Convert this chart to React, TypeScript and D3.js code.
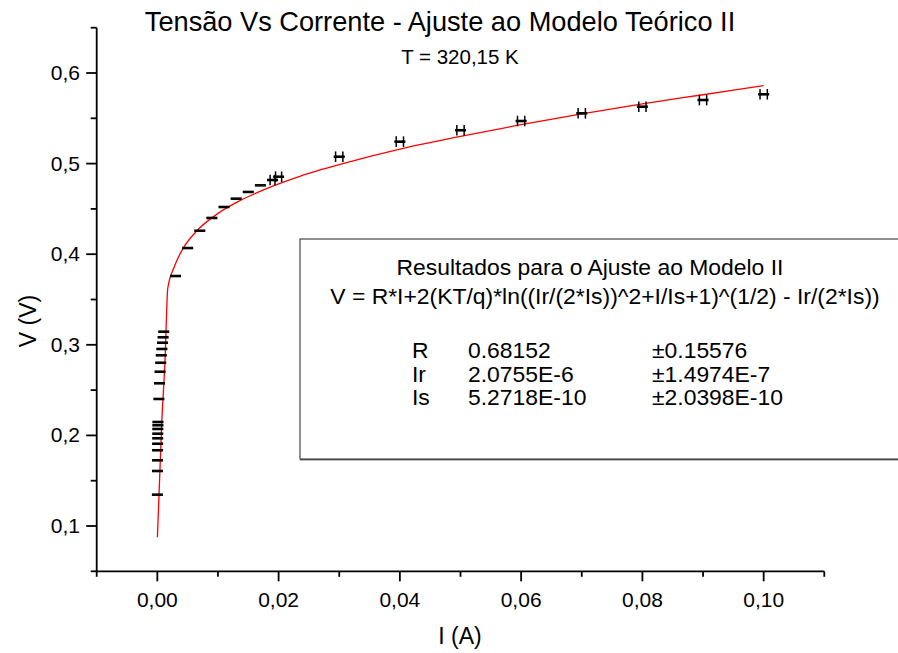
import React from "react";
import * as d3 from "d3";

// measured points (A, V)
const current = [
  0.00001, 0.00002, 0.00003, 0.00004, 0.00005, 0.00006, 0.00007, 0.00008, 0.00009, 0.0001,
  0.00025, 0.00035, 0.00045, 0.00055, 0.00065, 0.00075, 0.00085, 0.00095, 0.00105,
  0.003, 0.005, 0.007, 0.009, 0.011, 0.013, 0.015, 0.017, 0.019, 0.020,
  0.03, 0.04, 0.05, 0.06, 0.07, 0.08, 0.09, 0.10,
];
const voltage = [
  0.1346, 0.1607, 0.1725, 0.1836, 0.1908, 0.1968, 0.2019, 0.2071, 0.2112, 0.2148,
  0.2402, 0.2575, 0.2703, 0.2802, 0.2884, 0.2954, 0.3023, 0.3083, 0.3145,
  0.3759, 0.4068, 0.4259, 0.4400, 0.4521, 0.4613, 0.4687, 0.4760, 0.4819, 0.4855,
  0.5076, 0.5242, 0.5368, 0.5470, 0.5555, 0.5628, 0.5702, 0.5765,
];
const currentErr = [
  0, 0, 0, 0, 0, 0, 0, 0, 0, 0,
  0, 0, 0, 0, 0, 0, 0, 0, 0,
  0, 0, 0, 0, 0, 0, 0, 0, 0.0004, 0.0005,
  0.0006, 0.0006, 0.0006, 0.0006, 0.0006, 0.0006, 0.0006, 0.0006,
];
const voltageErr = 0.0006;

// fitted curve
const fitI = [
  0.00001, 0.00073, 0.00127, 0.00172, 0.0028, 0.0043, 0.0065, 0.0099, 0.0136, 0.0175,
  0.0235, 0.0271, 0.03, 0.04, 0.05, 0.06, 0.07, 0.08, 0.09, 0.10,
];
const fitV = [
  0.0875, 0.2148, 0.2832, 0.3624, 0.3862, 0.4070, 0.4257, 0.4445, 0.4590, 0.4710,
  0.4860, 0.4935, 0.499, 0.516, 0.530, 0.543, 0.555, 0.566, 0.576, 0.586,
];

const xMajor = [0, 0.02, 0.04, 0.06, 0.08, 0.1];
const xMinor = [-0.01, 0.01, 0.03, 0.05, 0.07, 0.09, 0.11];
const yMajor = [0.1, 0.2, 0.3, 0.4, 0.5, 0.6];
const yMinor = [0.05, 0.15, 0.25, 0.35, 0.45, 0.55, 0.65];

const fitParams = ["R", "Ir", "Is"];
const fitValues = ["0.68152", "2.0755E-6", "5.2718E-10"];
const fitErrors = ["±0.15576", "±1.4974E-7", "±2.0398E-10"];

const FONT = "'Liberation Sans', Arial, sans-serif";

export default function App() {
  const width = 898;
  const height = 653;
  const x = d3.scaleLinear().domain([-0.01, 0.11]).range([96.7, 824.3]);
  const y = d3.scaleLinear().domain([0.05, 0.65]).range([571.3, 27.7]);

  const comma = (v: number, f: string) => d3.format(f)(v).replace(".", ",");

  const fitPts = fitI.map((d, i) => [d, fitV[i]] as [number, number]);
  const line = d3
    .line<[number, number]>()
    .x((d) => x(d[0]))
    .y((d) => y(d[1]))
    .curve(d3.curveMonotoneX);

  const x0 = x(-0.01);
  const y0 = y(0.05);

  return (
    <svg width={width} height={height} style={{ position: "absolute", left: 0, top: 0, background: "#fff" }} fontFamily={FONT}>
      <rect x={0} y={0} width={width} height={height} fill="#fff" />
      <text x={440} y={31} textAnchor="middle" fontSize={27.2}>
        Tensão Vs Corrente - Ajuste ao Modelo Teórico II
      </text>
      <text x={460} y={64} textAnchor="middle" fontSize={20.5}>
        T = 320,15 K
      </text>

      {/* results box */}
      <line x1={300} x2={width} y1={459.5} y2={459.5} stroke="#777" strokeWidth={2} />
      <rect x={300} y={239} width={640} height={220} fill="#fff" stroke="#222" strokeWidth={1} />
      <text x={590} y={275} textAnchor="middle" fontSize={22.9}>
        Resultados para o Ajuste ao Modelo II
      </text>
      <text x={605} y={304} textAnchor="middle" fontSize={22.9}>
        V = R*I+2(KT/q)*ln((Ir/(2*Is))^2+I/Is+1)^(1/2) - Ir/(2*Is))
      </text>
      {fitParams.map((p, i) => (
        <g key={p} fontSize={22.9}>
          <text x={412} y={358 + i * 23.5}>{p}</text>
          <text x={468} y={358 + i * 23.5}>{fitValues[i]}</text>
          <text x={652} y={358 + i * 23.5}>{fitErrors[i]}</text>
        </g>
      ))}

      {/* axes */}
      <g stroke="#000" strokeWidth={1.8}>
        <line x1={x0} x2={x(0.11)} y1={y0} y2={y0} />
        <line x1={x0} x2={x0} y1={y(0.65)} y2={y0} />
        {xMajor.map((t) => (
          <line key={"xM" + t} x1={x(t)} x2={x(t)} y1={y0} y2={y0 + 10} />
        ))}
        {xMinor.map((t) => (
          <line key={"xm" + t} x1={x(t)} x2={x(t)} y1={y0} y2={y0 + 5.5} />
        ))}
        {yMajor.map((t) => (
          <line key={"yM" + t} x1={x0 - 10.5} x2={x0} y1={y(t)} y2={y(t)} />
        ))}
        {yMinor.map((t) => (
          <line key={"ym" + t} x1={x0 - 6} x2={x0} y1={y(t)} y2={y(t)} />
        ))}
      </g>
      {xMajor.map((t) => (
        <text key={"xl" + t} x={x(t)} y={607} textAnchor="middle" fontSize={21}>
          {comma(t, ".2f")}
        </text>
      ))}
      {yMajor.map((t) => (
        <text key={"yl" + t} x={80} y={y(t) + 7} textAnchor="end" fontSize={21}>
          {comma(t, ".1f")}
        </text>
      ))}
      <text x={460} y={644} textAnchor="middle" fontSize={23}>
        I (A)
      </text>
      <text transform="translate(36,321) rotate(-90)" textAnchor="middle" fontSize={23}>
        V (V)
      </text>

      {/* fit curve */}
      <path d={line(fitPts) || ""} fill="none" stroke="#ff0000" strokeWidth={1.3} />

      {/* error bars */}
      <g stroke="#000" strokeWidth={1.5}>
        {current.map((c, i) => {
          const cx = x(c);
          const yt = y(voltage[i] + voltageErr);
          const yb = y(voltage[i] - voltageErr);
          const e = currentErr[i];
          return (
            <g key={i}>
              <line x1={cx} x2={cx} y1={yt} y2={yb} />
              <line x1={cx - 5.5} x2={cx + 5.5} y1={yt} y2={yt} />
              <line x1={cx - 5.5} x2={cx + 5.5} y1={yb} y2={yb} />
              {e > 0 && (
                <>
                  <line x1={x(c - e)} x2={x(c + e)} y1={y(voltage[i])} y2={y(voltage[i])} />
                  <line x1={x(c - e)} x2={x(c - e)} y1={y(voltage[i]) - 5.3} y2={y(voltage[i]) + 5.3} />
                  <line x1={x(c + e)} x2={x(c + e)} y1={y(voltage[i]) - 5.3} y2={y(voltage[i]) + 5.3} />
                </>
              )}
            </g>
          );
        })}
      </g>
    </svg>
  );
}
